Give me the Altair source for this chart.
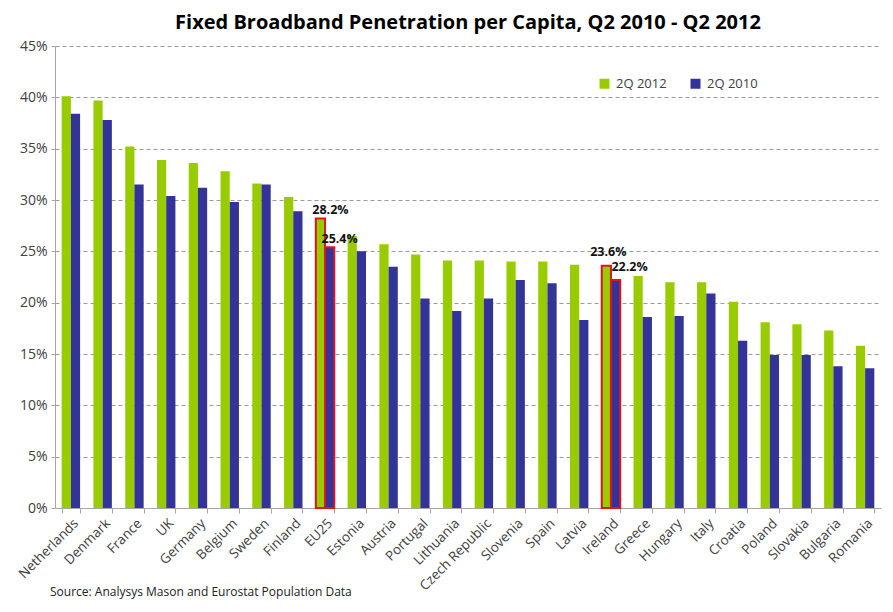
import altair as alt
import pandas as pd

countries = ["Netherlands", "Denmark", "France", "UK", "Germany", "Belgium", "Sweden",
             "Finland", "EU25", "Estonia", "Austria", "Portugal", "Lithuania",
             "Czech Republic", "Slovenia", "Spain", "Latvia", "Ireland", "Greece",
             "Hungary", "Italy", "Croatia", "Poland", "Slovakia", "Bulgaria", "Romania"]
q2_2012 = [40.1, 39.7, 35.2, 33.9, 33.6, 32.8, 31.6, 30.3, 28.2, 26.5, 25.7, 24.7, 24.1,
           24.1, 24.0, 24.0, 23.7, 23.6, 22.6, 22.0, 22.0, 20.1, 18.1, 17.9, 17.3, 15.8]
q2_2010 = [38.4, 37.8, 31.5, 30.4, 31.2, 29.8, 31.5, 28.9, 25.4, 25.0, 23.5, 20.4, 19.2,
           20.4, 22.2, 21.9, 18.3, 22.2, 18.6, 18.7, 20.9, 16.3, 14.9, 14.9, 13.8, 13.6]
series = ["2Q 2012", "2Q 2010"]
series_colors = ["#99CC00", "#333399"]
highlight = ["EU25", "Ireland"]
y_ticks = [0, 5, 10, 15, 20, 25, 30, 35, 40, 45]
title_text = "Fixed Broadband Penetration per Capita, Q2 2010 - Q2 2012"
source_text = "Source: Analysys Mason and Eurostat Population Data"

rows = []
for c, a, b in zip(countries, q2_2012, q2_2010):
    for s, v in zip(series, (a, b)):
        rows.append({"country": c, "series": s, "value": v / 100.0,
                     "hl": 1 if c in highlight else 0, "label": f"{v:.1f}%"})
df = pd.DataFrame(rows)

FONT = "Open Sans"
TXT = "#404040"

x_enc = alt.X("country:N", sort=countries,
              scale=alt.Scale(paddingInner=0.42, paddingOuter=0.21),
              axis=alt.Axis(title=None, labelAngle=-45, labelAlign="right",
                            labelBaseline="top", labelFontSize=13.5, labelColor=TXT,
                            labelFont=FONT, labelPadding=3, tickBand="extent",
                            tickSize=5, tickColor="#a6a6a6", domainColor="#a6a6a6",
                            grid=False, labelOverlap=False))
y_enc = alt.Y("value:Q", scale=alt.Scale(domain=[0, 0.45], nice=False),
              axis=alt.Axis(title=None, format=".0%", values=[t / 100 for t in y_ticks],
                            labelFontSize=14, labelColor=TXT, labelFont=FONT,
                            grid=True, gridDash=[4, 3], gridColor="#9a9a9a",
                            domainColor="#a6a6a6", tickColor="#a6a6a6", tickSize=4,
                            labelPadding=4))
xoff = alt.XOffset("series:N", sort=series)

bars = alt.Chart(df).mark_bar(strokeWidth=2, stroke="#e3121b").encode(
    x=x_enc, xOffset=xoff, y=y_enc,
    color=alt.Color("series:N", sort=series,
                    scale=alt.Scale(domain=series, range=series_colors),
                    legend=alt.Legend(title=None, orient="none", legendX=543, legendY=31,
                                      direction="horizontal", symbolType="square",
                                      symbolSize=100, symbolStrokeWidth=0,
                                      labelFontSize=13, labelColor=TXT, labelFont=FONT,
                                      labelOffset=5, columnPadding=22)),
    strokeOpacity=alt.condition("datum.hl == 1", alt.value(1), alt.value(0)),
)


def value_labels(flt, dx, dy):
    return alt.Chart(df).transform_filter(flt).mark_text(
        baseline="bottom", dx=dx, dy=dy, fontSize=12.5, fontWeight="bold", font=FONT,
        color="#111111").encode(x=alt.X("country:N", sort=countries), xOffset=xoff,
                                y="value:Q", text="label:N")


lab_eu = value_labels("datum.country == 'EU25'", 10, -1)
lab_ie_new = value_labels("datum.country == 'Ireland' && datum.series == '2Q 2012'", 2, -7)
lab_ie_old = value_labels("datum.country == 'Ireland' && datum.series == '2Q 2010'", 14, -6)

src = alt.Chart(pd.DataFrame({"t": [source_text]})).mark_text(
    align="left", baseline="alphabetic", fontSize=12, font=FONT, color="#222222"
).encode(x=alt.value(-5), y=alt.value(550), text="t:N")

chart = alt.layer(bars, lab_eu, lab_ie_new, lab_ie_old, src).properties(
    width=826, height=462,
    autosize=alt.AutoSizeParams(type="none"),
    padding={"left": 47, "top": 38, "right": 4, "bottom": 94},
    title=alt.TitleParams(title_text, font=FONT, fontSize=20, fontWeight="bold",
                          color="#000000", anchor="middle", offset=6),
).configure_view(stroke=None)

chart.save("out.html", embed_options={"renderer": "svg", "actions": False})
